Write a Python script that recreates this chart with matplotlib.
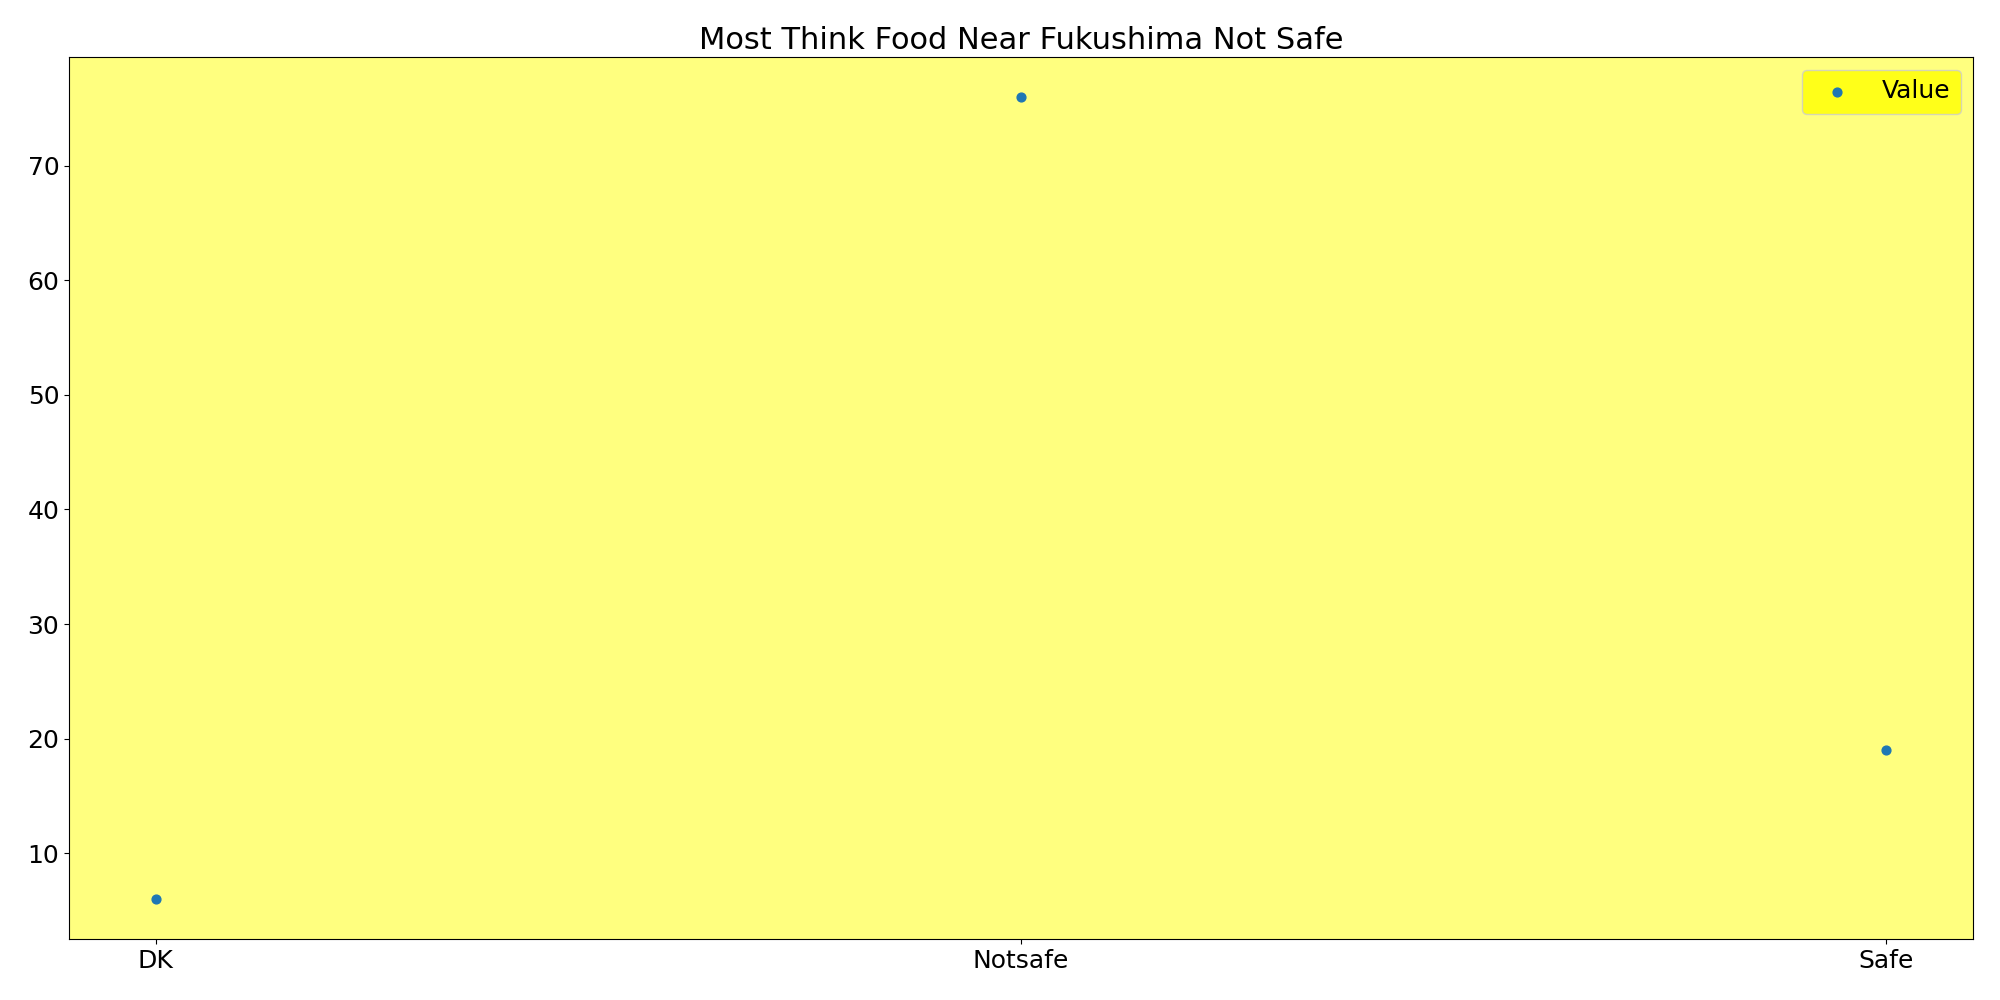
import matplotlib
matplotlib.use("Agg")
import matplotlib.pyplot as plt

categories = ["DK", "Notsafe", "Safe"]
values = [6, 76, 19]

fig, ax = plt.subplots(figsize=(20, 10), dpi=100)
ax.set_facecolor("yellow")
ax.patch.set_alpha(0.5)

ax.scatter(categories, values, s=40, color="#1f77b4", label="Value")

ax.set_title("Most Think Food Near Fukushima Not Safe", fontsize=22)
ax.tick_params(labelsize=18)
leg = ax.legend(fontsize=18, facecolor="yellow")

fig.subplots_adjust(left=0.0345, right=0.9865, top=0.943, bottom=0.061)
fig.savefig("out.png")
